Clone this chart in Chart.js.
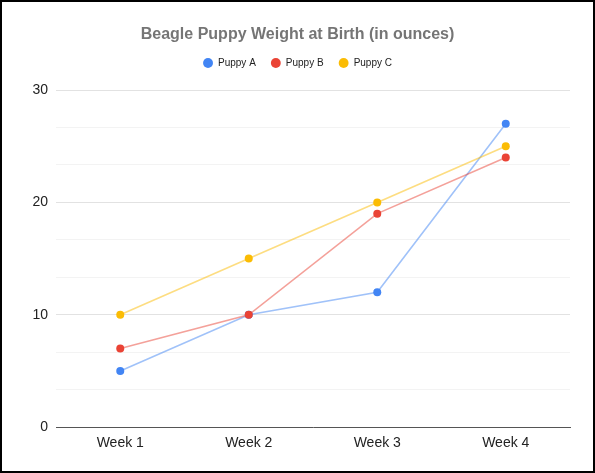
<!DOCTYPE html>
<html>
<head>
<meta charset="utf-8">
<script src="https://cdn.jsdelivr.net/npm/chart.js@4.4.1/dist/chart.umd.min.js"></script>
<style>
  html, body { margin: 0; padding: 0; background: #fff; }
  #wrap { position: relative; width: 595px; height: 473px; }
  #frame {
    position: absolute; left: 0; top: 0; width: 595px; height: 473px;
    box-sizing: border-box; border: 2px solid #000; pointer-events: none;
  }
</style>
</head>
<body>
<div id="wrap">
  <canvas id="chart" width="595" height="473"></canvas>
  <div id="frame"></div>
</div>
<script>
// ---------------------- Data ----------------------
const weeks = ['Week 1', 'Week 2', 'Week 3', 'Week 4'];
const puppyA = [5, 10, 12, 27];
const puppyB = [7, 10, 19, 24];
const puppyC = [10, 15, 20, 25];
const majorTicks = [0, 10, 20, 30];
const minorPerMajor = 3; // two faint lines between labelled ones

const COLORS = { a: '#4285f4', b: '#ea4335', c: '#fbbc04' };
const LINE_COLORS = { a: 'rgba(66,133,244,0.5)', b: 'rgba(234,67,53,0.5)', c: 'rgba(251,188,4,0.5)' };

const FONT = 'Arial, "Liberation Sans", sans-serif';

// gridline values: majors plus minors in between
const gridValues = [];
majorTicks.forEach((v, i) => {
  gridValues.push(v);
  if (i < majorTicks.length - 1) {
    const step = (majorTicks[i + 1] - v) / minorPerMajor;
    for (let k = 1; k < minorPerMajor; k++) gridValues.push(v + step * k);
  }
});
const isMajor = (val) => majorTicks.some(m => Math.abs(m - val) < 1e-6);

function series(label, values, key, order) {
  return {
    label,
    data: values,
    borderColor: LINE_COLORS[key],
    backgroundColor: COLORS[key],
    pointBackgroundColor: COLORS[key],
    pointBorderColor: COLORS[key],
    pointRadius: 4,
    pointBorderWidth: 0,
    borderWidth: 1.6,
    tension: 0,
    order,
  };
}

// ---------------------- Legend spacing tweak ----------------------
const legendGap = {
  id: 'legendGap',
  beforeInit(chart) {
    const lg = chart.legend;
    if (!lg) return;
    const fit = lg.fit;
    lg.fit = function () {
      fit.call(this);
      this.height += 12;
    };
  },
};

new Chart(document.getElementById('chart'), {
  type: 'line',
  data: {
    labels: weeks,
    datasets: [
      series('Puppy A', puppyA, 'a', 3),
      series('Puppy B', puppyB, 'b', 2),
      series('Puppy C', puppyC, 'c', 1),
    ],
  },
  options: {
    responsive: false,
    animation: false,
    layout: { padding: { left: 25, right: 25, top: 0, bottom: 21 } },
    plugins: {
      title: {
        display: true,
        text: 'Beagle Puppy Weight at Birth (in ounces)',
        color: '#757575',
        font: { family: FONT, size: 16, weight: 'bold', lineHeight: 1 },
        padding: { top: 27, bottom: 0 },
      },
      legend: {
        display: true,
        position: 'top',
        labels: {
          usePointStyle: true,
          pointStyle: 'circle',
          boxWidth: 10,
          boxHeight: 7,
          padding: 15,
          color: '#222',
          font: { family: FONT, size: 10 },
          generateLabels: (chart) => {
            const items = Chart.defaults.plugins.legend.labels.generateLabels(chart);
            items.forEach(it => {
              const ds = chart.data.datasets[it.datasetIndex];
              it.fillStyle = ds.pointBackgroundColor;
              it.strokeStyle = ds.pointBackgroundColor;
              it.lineWidth = 0;
            });
            return items.sort((p, q) => p.datasetIndex - q.datasetIndex);
          },
        },
      },
      tooltip: { enabled: false },
    },
    scales: {
      x: {
        offset: true,
        grid: { display: false },
        border: { display: true, color: '#555', width: 1 },
        ticks: { color: '#222', padding: 0, font: { family: FONT, size: 14 } },
      },
      y: {
        min: 0,
        max: 30,
        afterBuildTicks: (scale) => {
          scale.ticks = gridValues.map(v => ({ value: v }));
        },
        afterFit: (scale) => { scale.width = 31; },
        border: { display: false },
        grid: {
          drawTicks: false,
          color: (ctx) => isMajor(ctx.tick.value) ? '#e2e2e2' : '#f3f3f3',
          lineWidth: 1,
        },
        ticks: {
          color: '#222',
          padding: 8,
          font: { family: FONT, size: 14 },
          callback: (val) => isMajor(val) ? String(Math.round(val)) : '',
        },
      },
    },
  },
  plugins: [legendGap],
});
</script>
</body>
</html>
